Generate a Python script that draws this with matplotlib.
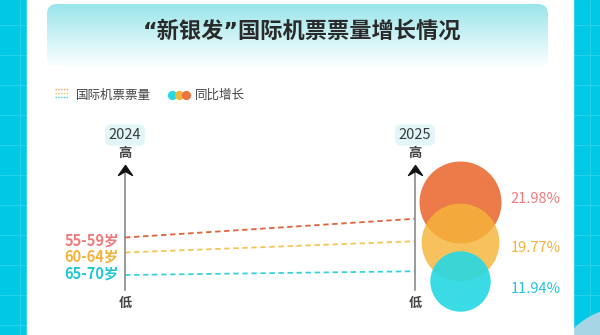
import numpy as np
import matplotlib.pyplot as plt
from matplotlib.patches import Rectangle, FancyBboxPatch, Circle
from matplotlib.path import Path

plt.rcParams['font.family'] = ['Noto Sans CJK SC', 'DejaVu Sans']

# 数据
years = [2024, 2025]
groups = ['55-59岁', '60-64岁', '65-70岁']
volume_2024 = [42, 30, 12]      # 票量指数 (低=0, 高=100)
volume_2025 = [57, 39, 15]
growth = [21.98, 19.77, 11.94]  # 同比增长 %
growth_labels = ['21.98%', '19.77%', '11.94%']

line_colors = ['#e3623a', '#f2c75a', '#3ad2da']
text_colors = ['#f27a7c', '#f3b23a', '#22c6d6']
bubble_colors = ['#ec7440', '#f6b43a', '#26d8e4']
bubble_alpha = [0.95, 0.82, 0.9]

# 气泡与标签的排布位置
bubble_x = 2025.155
bubble_y = [70.4, 38.4, 7.2]
pct_x = 2025.33
pct_y = [72.8, 33.6, 0.8]
group_y = [39.6, 26.4, 13.2]

fig = plt.figure(figsize=(6, 3.35), dpi=100)

# 背景层 (像素坐标)
bg = fig.add_axes([0, 0, 1, 1])
bg.set_xlim(0, 600)
bg.set_ylim(335, 0)
bg.axis('off')
bg.add_patch(Rectangle((0, 0), 600, 335, color='#00c9e5', zorder=0))
for gx in np.arange(20, 600, 30):
    bg.axvline(gx, color='#2fd2ea', lw=0.6, zorder=0.5)
for gy in np.arange(25, 335, 30):
    bg.axhline(gy, color='#2fd2ea', lw=0.6, zorder=0.5)
bg.add_patch(Circle((625, 380), 72, color='#a6d6e6', zorder=0.8))
bg.add_patch(Rectangle((27, 0), 546, 335, color='white', zorder=1))

# 标题框渐变
box = FancyBboxPatch((47, 4), 501, 64, boxstyle='round,pad=0,rounding_size=10',
                     fc='none', ec='none', zorder=2)
bg.add_patch(box)
top = np.array([0.60, 0.90, 0.92])
t = np.linspace(0, 1, 64)[:, None, None]
grad = top * (1 - t) + np.ones(3) * t
grad = np.repeat(grad, 2, axis=1)
im = bg.imshow(grad, extent=(47, 548, 68, 4), aspect='auto', zorder=2,
               interpolation='bilinear')
im.set_clip_path(box)
bg.set_xlim(0, 600)
bg.set_ylim(335, 0)

bg.text(302, 31, '“新银发”国际机票票量增长情况', ha='center', va='center',
        fontsize=16, fontweight='bold', color='#2a2a2a', zorder=3,
        family=['DejaVu Sans', 'Noto Sans CJK SC'])

# 图例
for i, c in enumerate(['#f0a060', '#f2c75a', '#3ad2da']):
    bg.plot([55, 69], [89 + 4 * i, 89 + 4 * i], color=c, lw=1, ls=(0, (1, 1)), zorder=3)
bg.text(76, 95, '国际机票票量', ha='left', va='center', fontsize=9, color='#444444', zorder=3)
for cx, c in zip([172, 179, 186], ['#26d8e4', '#f6b43a', '#ec7440']):
    bg.scatter([cx], [95], s=44, color=c, lw=0, zorder=3)
bg.text(195, 95, '同比增长', ha='left', va='center', fontsize=9, color='#444444', zorder=3)

# 主图
ax = fig.add_axes([125 / 600, 45 / 335, 290 / 600, 125 / 335])
ax.set_xlim(2024, 2025)
ax.set_ylim(0, 100)
ax.axis('off')
ax.patch.set_alpha(0)

head = Path([(0, 0), (-7, -10), (0, -6), (7, -10), (0, 0)],
            [Path.MOVETO, Path.LINETO, Path.LINETO, Path.LINETO, Path.CLOSEPOLY])
for yr in years:
    ax.plot([yr, yr], [0, 95], color='#8a8a8a', lw=1.2, zorder=3, clip_on=False)
    ax.plot([yr], [100], marker=head, markersize=14.4, color='#111111',
            lw=0, zorder=4, clip_on=False)
    ax.annotate(str(yr), (yr, 100), xytext=(0, 30), textcoords='offset pixels',
                ha='center', va='center', fontsize=10.5, color='#3a3a3a',
                bbox=dict(boxstyle='round,pad=0.25,rounding_size=0.4',
                          fc='#e2f6f8', ec='none'), annotation_clip=False)
    ax.annotate('高', (yr, 100), xytext=(0, 12), textcoords='offset pixels',
                ha='center', va='center', fontsize=9.5, fontweight='bold',
                color='#444444', annotation_clip=False)
    ax.annotate('低', (yr, 0), xytext=(0, -13), textcoords='offset pixels',
                ha='center', va='center', fontsize=9.5, fontweight='bold',
                color='#444444', annotation_clip=False)

for i in range(len(groups)):
    ax.plot(years, [volume_2024[i], volume_2025[i]], color=line_colors[i],
            lw=1.3, ls=(0, (3, 2)), zorder=2, clip_on=False)
    ax.annotate(groups[i], (2024, group_y[i]), xytext=(-6, 0),
                textcoords='offset pixels', ha='right', va='center',
                fontsize=10.5, fontweight='bold', color=text_colors[i],
                annotation_clip=False)

for i in range(len(groups)):
    ax.scatter([bubble_x], [bubble_y[i]], s=growth[i] * 158.5,
               color=bubble_colors[i], alpha=bubble_alpha[i], lw=0,
               zorder=5 + i, clip_on=False)
    ax.text(pct_x, pct_y[i], growth_labels[i], ha='left', va='center',
            fontsize=10.5, color=text_colors[i], zorder=8)

fig.savefig('out.png', dpi=100)
